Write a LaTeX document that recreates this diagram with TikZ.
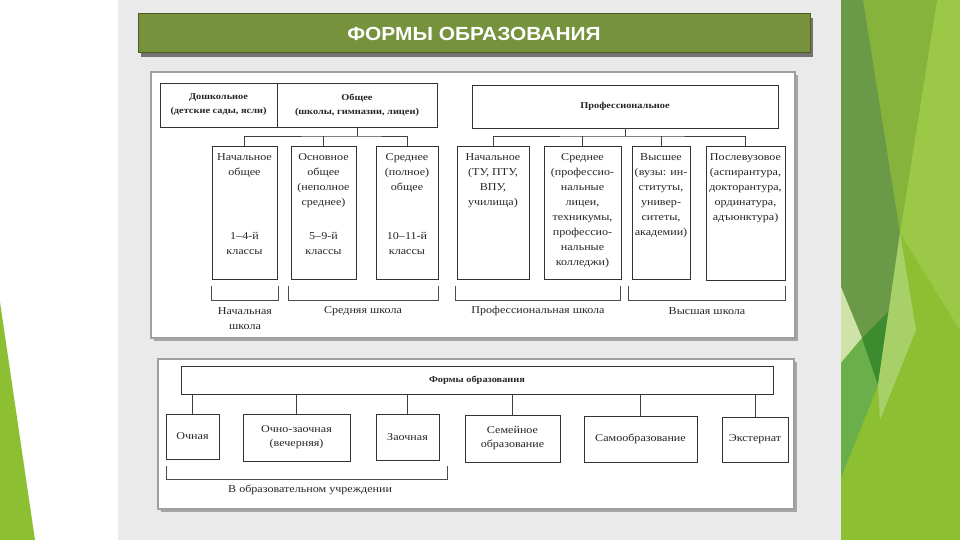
\documentclass[tikz,border=0pt]{standalone}
\usepackage{fontspec}
\setmainfont[FakeStretch=1.15]{Liberation Serif}
\newfontfamily\titlefont[FakeStretch=1.1]{Liberation Sans}
\usepackage{xcolor}
\usepackage{tikz}
\usetikzlibrary{positioning}
\definecolor{slidegreen}{RGB}{141,191,51}
\definecolor{lightgreen}{RGB}{156,200,71}
\definecolor{olivegreen}{RGB}{134,179,59}
\definecolor{darkband}{RGB}{106,154,71}
\definecolor{palegreen}{RGB}{207,227,168}
\definecolor{deepgreen}{RGB}{61,139,47}
\definecolor{midgreen}{RGB}{107,175,74}
\definecolor{streakgreen}{RGB}{168,208,104}
\definecolor{titlegreen}{RGB}{118,146,60}
\definecolor{titleedge}{RGB}{74,94,35}
\definecolor{panelgray}{RGB}{234,234,234}

\begin{document}
\begin{tikzpicture}[x=1pt,y=-1pt,
  box/.style={draw=black!80, line width=0.9pt, fill=white, inner sep=0pt},
  head/.style={font=\bfseries\fontsize{9}{14}\selectfont, align=center, text=black!85},
  note/.style={font=\fontsize{10.5}{15}\selectfont, align=center, inner sep=0pt, text=black!85},
  low/.style={font=\fontsize{10.5}{14}\selectfont, align=center, text=black!85},
  lnk/.style={draw=black!75, line width=0.8pt},
  grp/.style={draw=black!70, line width=0.8pt},
  panel/.style={draw=gray!75, line width=1.2pt, fill=white}]
  \useasboundingbox (0,0) rectangle (960,540);
  \fill[white] (0,0) rectangle (960,540);

  \fill[slidegreen] (0,302) -- (35,540) -- (0,540) -- cycle;
  \fill[panelgray] (118,0) rectangle (841,540);
  \fill[slidegreen] (841,0) rectangle (960,540);
  \fill[lightgreen] (937,0) -- (960,0) -- (960,330) -- (900,233) -- cycle;
  \fill[olivegreen] (863,0) -- (937,0) -- (900,233) -- cycle;
  \fill[darkband] (841,0) -- (863,0) -- (900,233) -- (878,385) -- (841,287) -- cycle;
  \fill[palegreen] (841,287) -- (862,338) -- (841,363) -- cycle;
  \fill[midgreen] (841,363) -- (862,338) -- (878,385) -- (841,478) -- cycle;
  \fill[deepgreen] (862,338) -- (888,312) -- (878,385) -- cycle;
  \fill[streakgreen] (900,233) -- (916,330) -- (880,420) -- (878,385) -- cycle;

  \fill[black!55] (141,18) rectangle (813,57);
  \node[draw=titleedge, line width=1pt, fill=titlegreen, minimum width=672, minimum height=39,
    text=white, font=\titlefont\bfseries\fontsize{19}{22}\selectfont] (title) at (474,33.5) {ФОРМЫ ОБРАЗОВАНИЯ};

  \fill[black!35] (154,75) rectangle (798,341);
  \draw[panel] (151,72) rectangle (795,338);
  \fill[black!35] (161,362) rectangle (797,512);
  \draw[panel] (158,359) rectangle (794,509);

  \node[box, head, minimum width=117, minimum height=44] (doshk) at (218.5,105) {Дошкольное\\(детские сады, ясли)};
  \node[box, head, minimum width=160, minimum height=44] (obsh) at (357,105) {Общее\\(школы, гимназии, лицеи)};
  \node[box, head, minimum width=306, minimum height=43] (prof) at (625,106.5) {Профессиональное};

  \node[box, minimum width=65, minimum height=133] (nachobsh) at (244.5,212.5) {};
  \node[box, minimum width=65, minimum height=133] (osnobsh) at (323.5,212.5) {};
  \node[box, minimum width=62, minimum height=133] (srobsh) at (407,212.5) {};
  \node[box, minimum width=72, minimum height=133] (nachprof) at (493,212.5) {};
  \node[box, minimum width=77, minimum height=133] (srprof) at (582.5,212.5) {};
  \node[box, minimum width=58, minimum height=133] (vyssh) at (661,212.5) {};
  \node[box, minimum width=79, minimum height=134] (posle) at (745.5,213) {};

  \node[note, anchor=north] (nachobsh-a) at (244.5,153.5) {Начальное\\общее};
  \node[note] (nachobsh-b) at (244.5,243.5) {1–4-й\\классы};
  \node[note, anchor=north] (osnobsh-a) at (323.5,153.5) {Основное\\общее\\(неполное\\среднее)};
  \node[note] (osnobsh-b) at (323.5,243.5) {5–9-й\\классы};
  \node[note, anchor=north] (srobsh-a) at (407,153.5) {Среднее\\(полное)\\общее};
  \node[note] (srobsh-b) at (407,243.5) {10–11-й\\классы};
  \node[note, anchor=north] (nachprof-a) at (493,153.5) {Начальное\\(ТУ, ПТУ,\\ВПУ,\\училища)};
  \node[note, anchor=north] (srprof-a) at (582.5,153.5) {Среднее\\(профессио-\\нальные\\лицеи,\\техникумы,\\профессио-\\нальные\\колледжи)};
  \node[note, anchor=north] (vyssh-a) at (661,153.5) {Высшее\\(вузы: ин-\\ституты,\\универ-\\ситеты,\\академии)};
  \node[note, anchor=north] (posle-a) at (745.5,153.5) {Послевузовое\\(аспирантура,\\докторантура,\\ординатура,\\адъюнктура)};

  \coordinate (obus) at (357,136);
  \coordinate (pbus) at (625,136);
  \draw[lnk] (obsh.south) -- (obus);
  \draw[lnk] (nachobsh.north) |- (obus) -| (srobsh.north);
  \draw[lnk] (osnobsh.north) -- (osnobsh.north |- obus);
  \draw[lnk] (prof.south) -- (pbus);
  \draw[lnk] (nachprof.north) |- (pbus) -| (posle.north);
  \draw[lnk] (srprof.north) -- (srprof.north |- pbus);
  \draw[lnk] (vyssh.north) -- (vyssh.north |- pbus);

  \draw[grp] (211,286) -- (211,300) -- (278,300) -- (278,286);
  \draw[grp] (288,286) -- (288,300) -- (438,300) -- (438,286);
  \draw[grp] (455,286) -- (455,300) -- (620,300) -- (620,286);
  \draw[grp] (628,286) -- (628,300) -- (785,300) -- (785,286);
  \node[note] (nachshk) at (245,318.5) {Начальная\\школа};
  \node[note] (srshk) at (363,311) {Средняя школа};
  \node[note] (profshk) at (538,311) {Профессиональная школа};
  \node[note] (vysshk) at (707,311) {Высшая школа};

  \node[box, head, minimum width=592, minimum height=28] (formy) at (477,380) {Формы образования};
  \node[box, low, minimum width=53, minimum height=45] (ochn) at (192.5,436.5) {Очная};
  \node[box, low, minimum width=107, minimum height=47] (ochzaoch) at (296.5,437.5) {Очно-заочная\\(вечерняя)};
  \node[box, low, minimum width=63, minimum height=46] (zaoch) at (407.5,437) {Заочная};
  \node[box, low, minimum width=95, minimum height=47] (semein) at (512.5,438.5) {Семейное\\образование};
  \node[box, low, minimum width=113, minimum height=46] (samoobr) at (640.5,439) {Самообразование};
  \node[box, low, minimum width=66, minimum height=45] (ekstern) at (755,439.5) {Экстернат};
  \foreach \n in {ochn, ochzaoch, zaoch, semein, samoobr, ekstern}
    \draw[lnk] (\n.north) -- (\n.north |- formy.south);

  \draw[grp] (166,466) -- (166,479) -- (447,479) -- (447,466);
  \node[note, anchor=west] (uchrezhd) at (228,490) {В образовательном учреждении};
\end{tikzpicture}
\end{document}
